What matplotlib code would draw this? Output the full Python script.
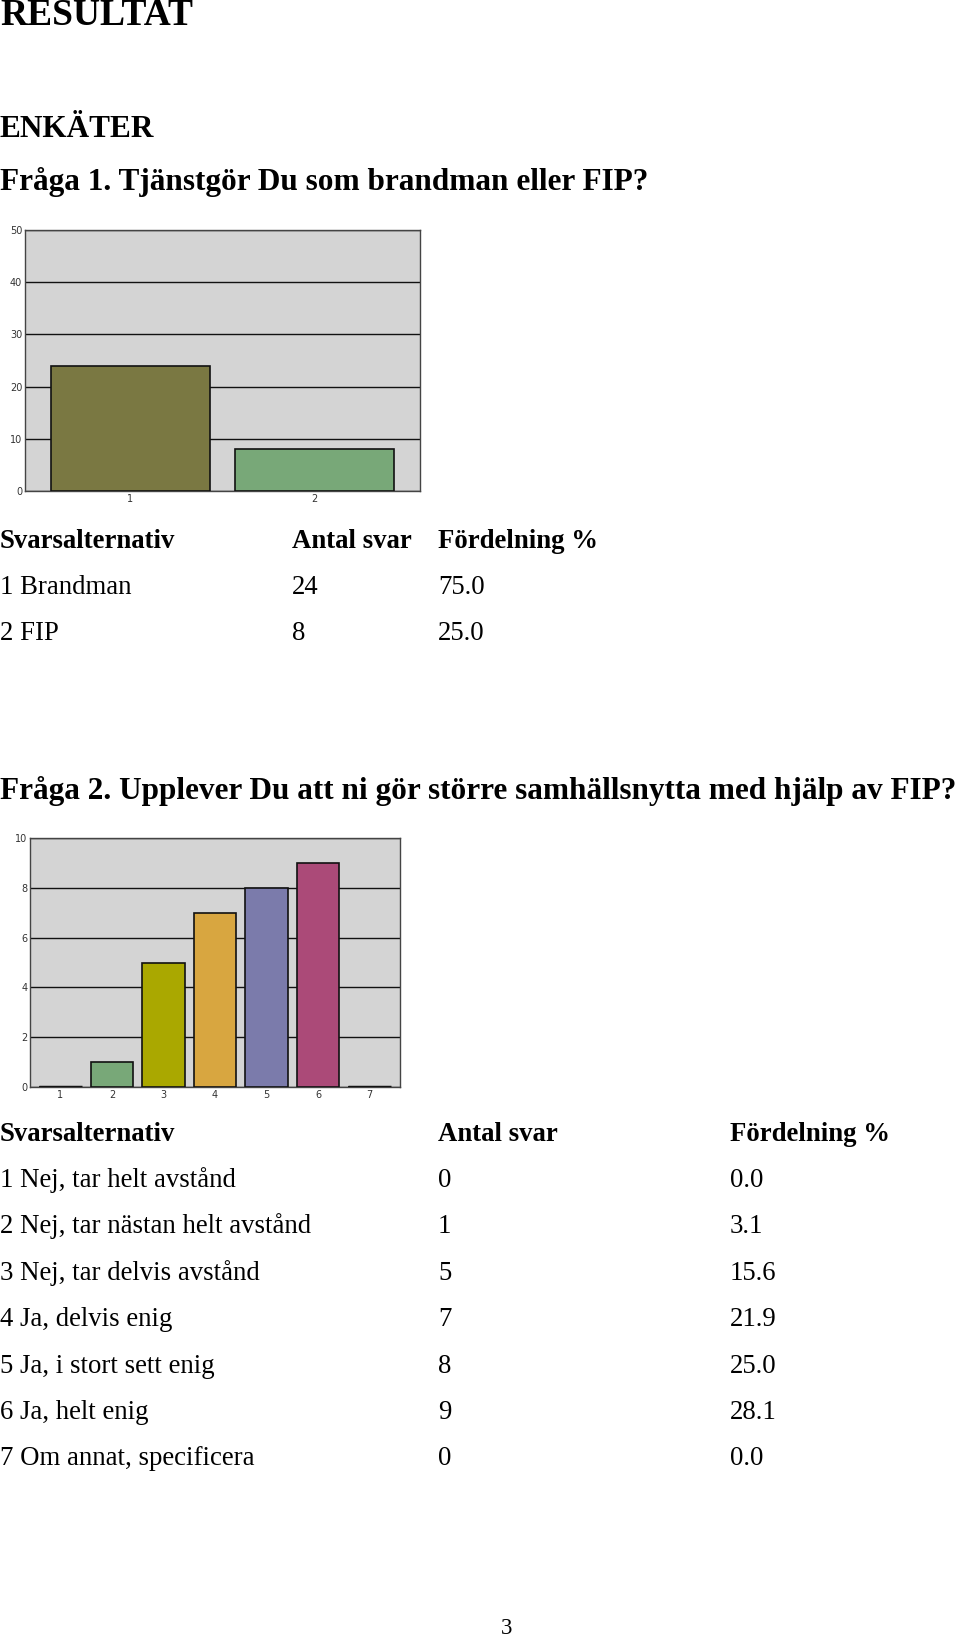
import numpy as np
import matplotlib.pyplot as plt

# Data
q1_cats = [1, 2]
q1_counts = [24, 8]
q1_labels = ['1 Brandman', '2 FIP']
q1_pct = ['75.0', '25.0']
q1_colors = ['#7a7842', '#78a878']

q2_cats = [1, 2, 3, 4, 5, 6, 7]
q2_counts = [0, 1, 5, 7, 8, 9, 0]
q2_labels = ['1 Nej, tar helt avstånd', '2 Nej, tar nästan helt avstånd',
             '3 Nej, tar delvis avstånd', '4 Ja, delvis enig',
             '5 Ja, i stort sett enig', '6 Ja, helt enig',
             '7 Om annat, specificera']
q2_pct = ['0.0', '3.1', '15.6', '21.9', '25.0', '28.1', '0.0']
q2_colors = ['#222222', '#78a878', '#aaa800', '#d8a640', '#7b7bab', '#ab4a78', '#222222']

W, H = 960, 1636
fig = plt.figure(figsize=(W / 100, H / 100), dpi=100)
serif = 'Liberation Serif'


def rect(l, t, r, b):
    return [l / W, 1 - b / H, (r - l) / W, (b - t) / H]


def txt(x, y, s, size=19.3, bold=False, ha='left'):
    fig.text(x / W, 1 - y / H, s, fontsize=size, family=serif,
             fontweight='bold' if bold else 'normal', ha=ha, va='baseline')


def bar_chart(ax, cats, counts, colors, width, xlim, ymax, ystep):
    ax.set_facecolor('#d4d4d4')
    ax.bar(cats, counts, width=width, color=colors, edgecolor='#111111',
           linewidth=1.2, zorder=3)
    # empty answers show as a flat dark line on the baseline
    for c, n in zip(cats, counts):
        if n == 0:
            ax.plot([c - width / 2, c + width / 2], [0, 0], color='#111111',
                    linewidth=2.5, zorder=4, solid_capstyle='butt')
    ax.set_xlim(*xlim)
    ax.set_ylim(0, ymax)
    ax.set_yticks(np.arange(0, ymax + 1, ystep))
    ax.set_xticks(cats)
    ax.grid(axis='y', color='#111111', linewidth=1, zorder=1)
    ax.tick_params(length=0, pad=2, labelsize=7, labelcolor='#333333')
    for s in ax.spines.values():
        s.set_color('#444444')
        s.set_linewidth(1)


# texts
txt(0, 25, 'RESULTAT', size=27, bold=True)
txt(0, 137, 'ENKÄTER', size=22.5, bold=True)
txt(0, 190, 'Fråga 1. Tjänstgör Du som brandman eller FIP?', size=22.5, bold=True)

ax1 = fig.add_axes(rect(25, 230, 420, 491))
bar_chart(ax1, q1_cats, q1_counts, q1_colors, 0.86, (0.43, 2.57), 50, 10)

txt(0, 548, 'Svarsalternativ', bold=True)
txt(292, 548, 'Antal svar', bold=True)
txt(438, 548, 'Fördelning %', bold=True)
for i, (lab, n, p) in enumerate(zip(q1_labels, q1_counts, q1_pct)):
    y = 594 + i * 46
    txt(0, y, lab)
    txt(292, y, str(n))
    txt(438, y, p)

txt(0, 799, 'Fråga 2. Upplever Du att ni gör större samhällsnytta med hjälp av FIP?',
    size=22.5, bold=True)

ax2 = fig.add_axes(rect(30, 838, 400, 1087))
bar_chart(ax2, q2_cats, q2_counts, q2_colors, 0.82, (0.41, 7.59), 10, 2)

txt(0, 1141, 'Svarsalternativ', bold=True)
txt(438, 1141, 'Antal svar', bold=True)
txt(730, 1141, 'Fördelning %', bold=True)
for i, (lab, n, p) in enumerate(zip(q2_labels, q2_counts, q2_pct)):
    y = 1187 + i * 46.4
    txt(0, y, lab)
    txt(438, y, str(n))
    txt(730, y, p)

txt(507, 1634, '3', size=16.5, ha='center')

fig.savefig('out.png', dpi=100, facecolor='white')
